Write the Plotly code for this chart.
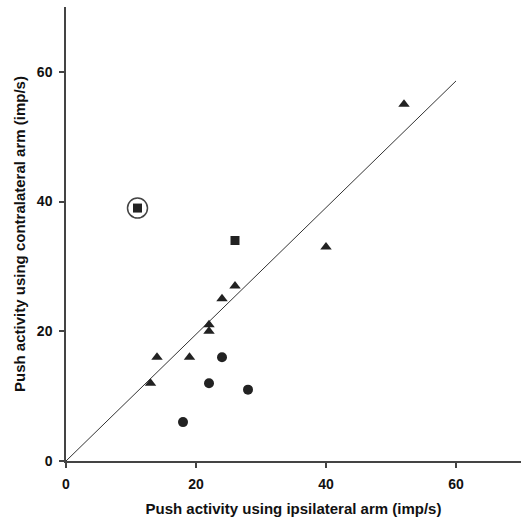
import plotly.graph_objects as go

# Data
tri_x = [13, 14, 19, 22, 22, 24, 26, 40, 52]
tri_y = [12, 16, 16, 20, 21, 25, 27, 33, 55]
circ_x = [18, 22, 24, 28]
circ_y = [6, 12, 16, 11]
sq_x = [11, 26]
sq_y = [39, 34]
outlier_x = [11]
outlier_y = [39]
line_x = [0, 60]
line_y = [0, 58.6]
tick_vals = [0, 20, 40, 60]
tick_text = ["0", "20", "40", "60"]

ink = "#222222"
fig = go.Figure()
fig.add_trace(go.Scatter(x=line_x, y=line_y, mode="lines",
                         line=dict(color="#333333", width=1), showlegend=False))
fig.add_trace(go.Scatter(x=tri_x, y=tri_y, mode="markers",
                         marker=dict(symbol="triangle-up", size=10, color=ink), showlegend=False))
fig.add_trace(go.Scatter(x=circ_x, y=circ_y, mode="markers",
                         marker=dict(symbol="circle", size=10, color=ink), showlegend=False))
fig.add_trace(go.Scatter(x=sq_x, y=sq_y, mode="markers",
                         marker=dict(symbol="square", size=9, color=ink), showlegend=False))
fig.add_trace(go.Scatter(x=outlier_x, y=outlier_y, mode="markers",
                         marker=dict(symbol="circle-open", size=20, color="#444444",
                                     line=dict(width=1.5, color="#444444")), showlegend=False))

fam = "Liberation Sans, Arial, sans-serif"
font = dict(family=fam, size=14, color="#111111")
title_font = dict(family=fam, size=15, color="#111111")
axis_common = dict(range=[0, 70], tickvals=tick_vals, ticktext=tick_text, automargin=False,
                   showgrid=False, zeroline=False, showline=True, linecolor="#444444",
                   linewidth=1.5, ticks="outside", ticklen=5, tickcolor="#444444",
                   tickwidth=1.5, tickfont=dict(family=fam, size=14, color="#111111",
                                                weight="bold"))
fig.update_xaxes(**axis_common,
                 title=dict(text="<b>Push activity using ipsilateral arm (imp/s)</b>",
                            font=title_font, standoff=13), ticklabelstandoff=4)
fig.update_yaxes(**axis_common,
                 title=dict(text="<b>Push activity using contralateral arm (imp/s)</b>",
                            font=title_font, standoff=8), ticklabelstandoff=4)
fig.update_layout(width=523, height=523, margin=dict(l=66, r=2, t=7, b=62),
                  plot_bgcolor="white", paper_bgcolor="white", font=font)
fig.write_html("out.html", config={"displayModeBar": False},
               post_script="document.body.style.margin='0';")
